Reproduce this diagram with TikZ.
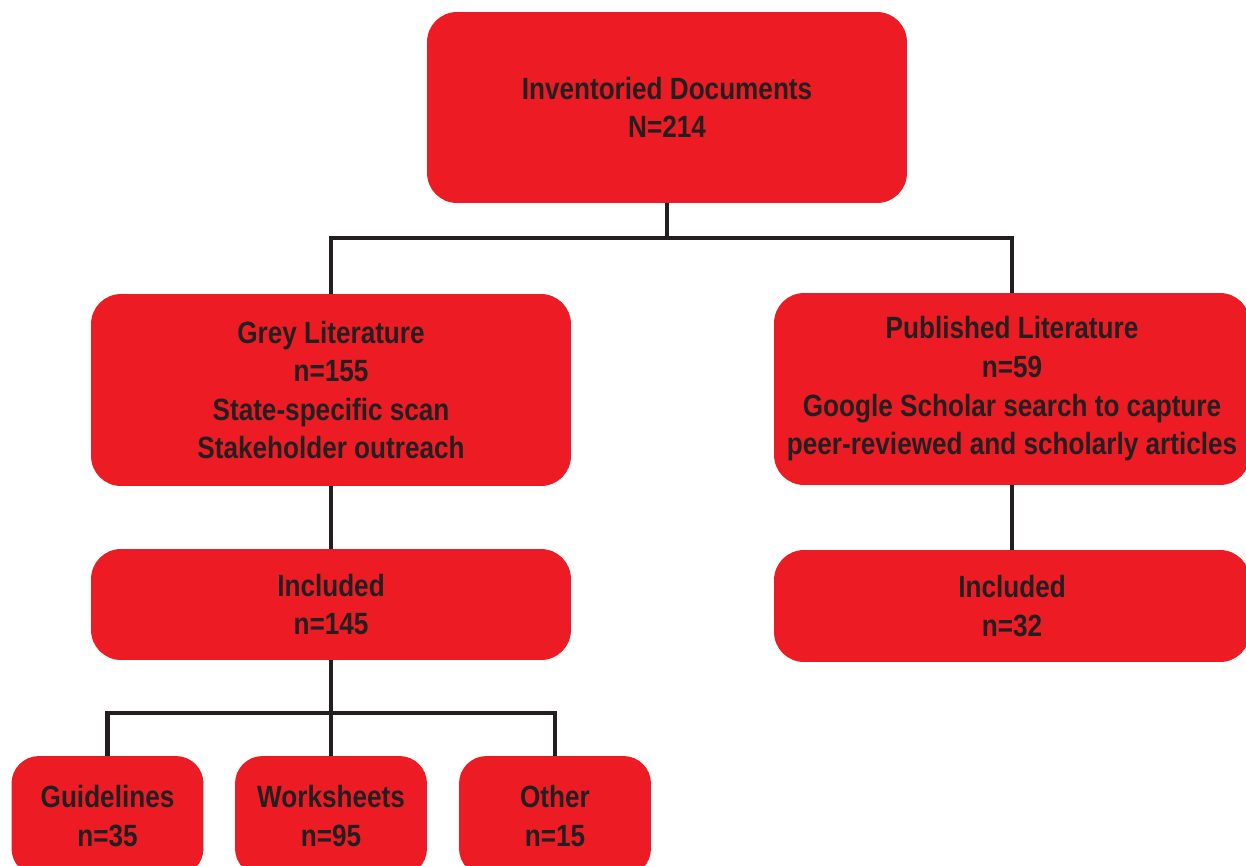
\documentclass[tikz,border=0pt]{standalone}
\usepackage{fontspec}
\setmainfont{Liberation Sans}[FakeStretch=0.85]
\usepackage{xcolor}
\usepackage{tikz}
\usetikzlibrary{positioning}
\usetikzlibrary{calc}
\definecolor{docred}{RGB}{237,28,36}
\definecolor{docink}{RGB}{35,31,32}
\tikzset{
  doc_n/.style = {align=center, inner sep=0pt, text centered, rectangle,
    rounded corners=0.6cm, fill=docred, text=docink,
    font=\fontsize{17.5}{22}\selectfont\bfseries,
    minimum width=9.6cm},% boite rouge
  doc_s/.style = {doc_n, minimum width=3.84cm, rounded corners=0.55cm},% petite boite
  doc_l/.style = {draw=docink, line width=2.3pt}% trait de liaison
}

\begin{document}
\begin{tikzpicture}[x=0.02cm,y=-0.02cm]
\clip (0,0) rectangle (1246,865);
\fill[white] (0,0) rectangle (1246,865);

\node [doc_n, minimum height=3.82cm] (inv) at (667,107.5)
  {Inventoried Documents\\N=214};
\node [doc_n, minimum height=3.84cm] (grey) at (331,390)
  {Grey Literature\\n=155\\State-specific scan\\Stakeholder outreach};
\node [doc_n, minimum height=3.84cm, minimum width=9.52cm] (pub) at (1012,389)
  {Published Literature\\n=59\\Google Scholar search to capture\\peer-reviewed and scholarly articles};
\node [doc_n, minimum height=2.22cm] (inc_g) at (331,604.5) {Included\\n=145};
\node [doc_n, minimum height=2.24cm, minimum width=9.52cm] (inc_p) at (1012,606) {Included\\n=32};

\node [doc_s, minimum height=2.4cm] (guide) at (107.5,816) {Guidelines\\n=35};
\node [doc_s, minimum height=2.4cm] (work) at (331,816) {Worksheets\\n=95};
\node [doc_s, minimum height=2.4cm] (other) at (555,816) {Other\\n=15};

\coordinate (j1) at (667,238);
\coordinate (j2) at (331,713);

\draw[doc_l] (inv.south) -- (j1) -| (grey.north);
\draw[doc_l] (j1) -| (pub.north);
\draw[doc_l] (grey.south) -- (inc_g.north);
\draw[doc_l] (pub.south) -- (inc_p.north);
\draw[doc_l] (inc_g.south) -- (j2) -| (guide.north);
\draw[doc_l] (j2) -| (other.north);
\draw[doc_l] (j2) -- (work.north);
\end{tikzpicture}
\end{document}
